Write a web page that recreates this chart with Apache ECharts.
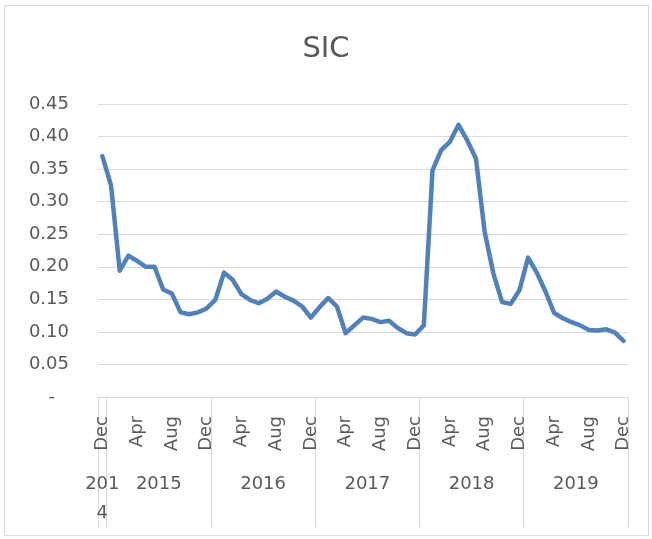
<!DOCTYPE html>
<html>
<head>
<meta charset="utf-8">
<script src="https://cdn.jsdelivr.net/npm/echarts@6/dist/echarts.min.js"></script>
<style>
  html, body { margin: 0; padding: 0; background: #fff; }
  #chart { width: 652px; height: 539px; }
  #frame { position: absolute; left: 4px; top: 5px; width: 643px; height: 529px; border: 1px solid #d9d9d9; pointer-events: none; }
</style>
</head>
<body>
<div id="chart"></div>
<div id="frame"></div>
<script>
// monthly categories, Dec 2014 .. Dec 2019
const months = [
  '2014-12',
  '2015-01', '2015-02', '2015-03', '2015-04', '2015-05', '2015-06', '2015-07', '2015-08', '2015-09', '2015-10', '2015-11', '2015-12',
  '2016-01', '2016-02', '2016-03', '2016-04', '2016-05', '2016-06', '2016-07', '2016-08', '2016-09', '2016-10', '2016-11', '2016-12',
  '2017-01', '2017-02', '2017-03', '2017-04', '2017-05', '2017-06', '2017-07', '2017-08', '2017-09', '2017-10', '2017-11', '2017-12',
  '2018-01', '2018-02', '2018-03', '2018-04', '2018-05', '2018-06', '2018-07', '2018-08', '2018-09', '2018-10', '2018-11', '2018-12',
  '2019-01', '2019-02', '2019-03', '2019-04', '2019-05', '2019-06', '2019-07', '2019-08', '2019-09', '2019-10', '2019-11', '2019-12'
];
const monthNames = ['Jan', 'Feb', 'Mar', 'Apr', 'May', 'Jun', 'Jul', 'Aug', 'Sep', 'Oct', 'Nov', 'Dec'];

const sic = [
  0.370,
  0.325, 0.194, 0.217, 0.209, 0.200, 0.200, 0.165, 0.159, 0.130, 0.127, 0.130, 0.136,
  0.149, 0.191, 0.180, 0.158, 0.149, 0.144, 0.151, 0.162, 0.154, 0.148, 0.139, 0.122,
  0.138, 0.152, 0.139, 0.098, 0.110, 0.122, 0.120, 0.115, 0.117, 0.106, 0.098, 0.096,
  0.110, 0.348, 0.379, 0.392, 0.418, 0.394, 0.366, 0.254, 0.190, 0.146, 0.143, 0.164,
  0.214, 0.191, 0.162, 0.129, 0.121, 0.115, 0.110, 0.103, 0.102, 0.104, 0.099, 0.086
];

// year groups of the second axis level (boundaries in month slots)
const years = ['2014', '2015', '2016', '2017', '2018', '2019'];
const yearLabels = ['201\n4', '2015', '2016', '2017', '2018', '2019'];
const yearBounds = [0, 1, 13, 25, 37, 49, 61];
const yearCenters = years.map((y, i) => (yearBounds[i] + yearBounds[i + 1]) / 2);

const font = "'DejaVu Sans', sans-serif";
const grey = '#595959';
const lineGrey = '#d9d9d9';

let mychart = echarts.init(document.getElementById('chart'));
mychart.setOption({
  animation: false,
  title: {
    text: 'SIC',
    left: 'center',
    top: 30,
    textStyle: { color: grey, fontSize: 29, fontWeight: 'normal', fontFamily: font }
  },
  grid: { left: 98, right: 24, top: 104, bottom: 142 },
  xAxis: [
    {
      type: 'category',
      data: months,
      boundaryGap: true,
      axisLine: { lineStyle: { color: lineGrey, width: 1 } },
      axisTick: { show: false },
      axisLabel: {
        interval: 3,
        rotate: 90,
        margin: 19,
        color: grey,
        fontSize: 18,
        fontFamily: font,
        formatter: v => monthNames[parseInt(v.slice(5), 10) - 1]
      },
      splitLine: { show: false }
    },
    {
      type: 'value',
      position: 'bottom',
      min: 0,
      max: months.length,
      axisLine: { show: false },
      axisTick: {
        show: true,
        customValues: yearBounds,
        length: 130,
        lineStyle: { color: lineGrey, width: 1 }
      },
      axisLabel: {
        customValues: yearCenters,
        margin: 73,
        color: grey,
        fontSize: 18,
        lineHeight: 29,
        fontFamily: font,
        formatter: v => yearLabels[yearCenters.indexOf(v)]
      },
      splitLine: { show: false }
    }
  ],
  yAxis: {
    type: 'value',
    min: 0,
    max: 0.45,
    interval: 0.05,
    axisLine: { show: false },
    axisTick: { show: false },
    axisLabel: {
      margin: 29,
      color: grey,
      fontSize: 18,
      fontFamily: font,
      formatter: v => v === 0 ? '{z|-}' : v.toFixed(2),
      rich: { z: { color: grey, fontSize: 18, fontFamily: font, padding: [0, 14, 0, 0] } }
    },
    splitLine: { lineStyle: { color: lineGrey, width: 1 } }
  },
  series: [
    {
      name: 'SIC',
      type: 'line',
      xAxisIndex: 0,
      data: sic,
      showSymbol: false,
      symbol: 'none',
      lineStyle: { color: '#4f81bd', width: 4.5, join: 'round', cap: 'round' },
      itemStyle: { color: '#4f81bd' }
    }
  ]
});
</script>
</body>
</html>
